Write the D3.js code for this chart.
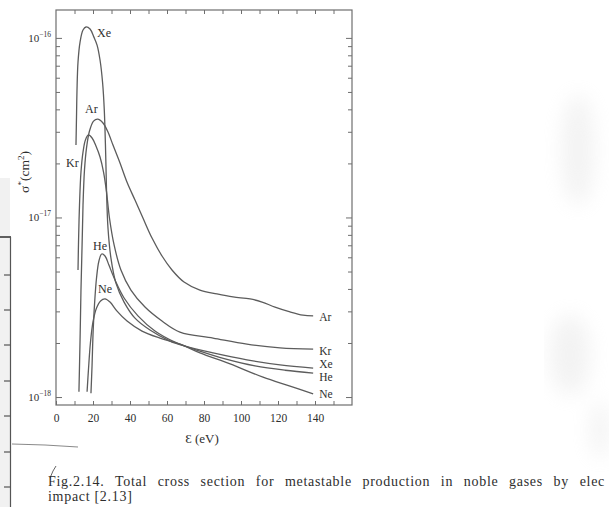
<!DOCTYPE html>
<html><head><meta charset="utf-8">
<script src="https://cdn.jsdelivr.net/npm/d3@7"></script>
<style>
html,body{margin:0;padding:0;background:#fff;}
svg{display:block;}
text{font-family:"Liberation Serif","Times New Roman",serif;fill:#2e2e2e;}
</style>
</head><body>
<svg id="chart" width="609" height="507"></svg>
<script>
// ---------- data ----------
const gases = ["Xe", "Kr", "Ar", "He", "Ne"];

const xeEnergy = [10.8, 11.1, 11.35, 11.9, 13.0, 14.6, 16.2, 18.4, 20.5, 22.2, 23.8, 25.2, 26.1, 26.8, 27.3, 28.1, 29.7, 32.4, 36.8, 42.7, 50.8, 61.6, 69.7, 84.9, 103.2, 121.1, 139];
const xeSigma  = [2.53e-17, 3.72e-17, 5.12e-17, 7.34e-17, 9.48e-17, 1.106e-16, 1.15e-16, 1.12e-16, 1.01e-16, 9.12e-17, 7.53e-17, 5.61e-17, 3.97e-17, 2.37e-17, 1.42e-17, 8.73e-18, 5.94e-18, 4.31e-18, 3.38e-18, 2.75e-18, 2.36e-18, 2.05e-18, 1.92e-18, 1.76e-18, 1.61e-18, 1.51e-18, 1.45e-18];

const krEnergy = [11.9, 12.2, 12.7, 13.5, 14.6, 15.9, 17.5, 19.5, 21.6, 23.8, 25.7, 27.3, 28.9, 31.4, 35.1, 40.5, 48.1, 57.3, 67.0, 84.9, 103.2, 121.1, 139];
const krSigma  = [5.10e-18, 7.49e-18, 1.17e-17, 1.79e-17, 2.31e-17, 2.70e-17, 2.88e-17, 2.77e-17, 2.50e-17, 2.17e-17, 1.79e-17, 1.39e-17, 9.93e-18, 7.03e-18, 5.10e-18, 3.94e-18, 3.17e-18, 2.65e-18, 2.30e-18, 2.13e-18, 1.97e-18, 1.88e-18, 1.85e-18];

const arEnergy = [12.4, 13.0, 13.5, 14.1, 14.6, 15.4, 16.5, 18.1, 20.3, 22.5, 25.4, 28.1, 30.8, 34.6, 38.4, 42.7, 47.0, 51.9, 57.3, 62.7, 69.2, 77.8, 87.0, 95.7, 104.9, 111.4, 118.4, 126.5, 133.5, 139];
const arSigma  = [1.07e-18, 2.08e-18, 3.94e-18, 7.03e-18, 1.17e-17, 1.84e-17, 2.44e-17, 3.03e-17, 3.44e-17, 3.53e-17, 3.36e-17, 2.99e-17, 2.53e-17, 2.01e-17, 1.57e-17, 1.25e-17, 9.93e-18, 7.68e-18, 6.10e-18, 5.10e-18, 4.37e-18, 3.94e-18, 3.75e-18, 3.61e-18, 3.52e-18, 3.38e-18, 3.17e-18, 2.98e-18, 2.86e-18, 2.83e-18];

const heEnergy = [18.9, 19.5, 20.0, 20.8, 21.9, 23.2, 24.7, 26.5, 28.6, 31.9, 36.8, 44.3, 53.5, 64.3, 77.8, 91.4, 107.6, 123.8, 139];
const heSigma  = [1.05e-18, 1.51e-18, 2.22e-18, 3.25e-18, 4.60e-18, 5.72e-18, 6.26e-18, 6.10e-18, 5.43e-18, 4.48e-18, 3.56e-18, 2.83e-18, 2.33e-18, 2.02e-18, 1.80e-18, 1.63e-18, 1.49e-18, 1.41e-18, 1.36e-18];

const neEnergy = [16.8, 17.6, 18.6, 20.0, 21.9, 24.1, 26.5, 29.2, 33.0, 38.4, 46.5, 56.2, 67.0, 77.8, 94.1, 111.9, 126.5, 139];
const neSigma  = [1.07e-18, 1.45e-18, 2.00e-18, 2.62e-18, 3.13e-18, 3.43e-18, 3.52e-18, 3.38e-18, 3.01e-18, 2.65e-18, 2.33e-18, 2.13e-18, 1.97e-18, 1.76e-18, 1.53e-18, 1.29e-18, 1.15e-18, 1.04e-18];

// peak label anchors (data units)
const peakLabelEnergy = [22.2, 5.4, 15.7, 20.0, 22.7];
const peakLabelSigma  = [1.01e-16, 1.91e-17, 3.82e-17, 6.59e-18, 3.79e-18];

const xTickValues = [0,10,20,30,40,50,60,70,80,90,100,110,120,130,140,150];
const xTickLabels = [0,20,40,60,80,100,120,140];
const yMinorMantissa = [2,3,4,5,6,7,8,9];
const yDecades = [-18,-17,-16];
const yTickExponents = ["−18","−17","−16"];
const xTitle = "Ɛ (eV)";
const captionLine1 = "Fig.2.14. Total cross section for metastable production in noble gases by elec";
const captionLine2 = "impact [2.13]";

// ---------- layout ----------
const L = 56, R = 352, T = 10, B = 405;
const FONT = '"Liberation Serif", "Times New Roman", serif';
const svg = d3.select("#chart");
const x = d3.scaleLinear().domain([0,160]).range([L,R]);
const y = d3.scaleLog().domain([9.03e-19, 1.43e-16]).range([B,T]);
const ink = "#5c5c5c";

// scan artefacts (left page edge, smudges)
const defs = svg.append("defs");
defs.append("filter").attr("id","blur").append("feGaussianBlur").attr("stdDeviation",10);
const smudge = svg.append("g").attr("filter","url(#blur)").attr("fill","#dcdcdc").attr("opacity",0.35);
smudge.append("ellipse").attr("cx",578).attr("cy",150).attr("rx",16).attr("ry",55);
smudge.append("ellipse").attr("cx",570).attr("cy",355).attr("rx",20).attr("ry",40);
smudge.append("ellipse").attr("cx",600).attr("cy",430).attr("rx",9).attr("ry",28);
svg.append("rect").attr("x",0).attr("y",178).attr("width",10).attr("height",329).attr("fill","#f1f1f1");
svg.append("line").attr("x1",0).attr("x2",11).attr("y1",237).attr("y2",237).attr("stroke","#3a3a3a").attr("stroke-width",1.6);
svg.append("line").attr("x1",10.5).attr("x2",10.5).attr("y1",237).attr("y2",507).attr("stroke","#555").attr("stroke-width",1.2);
[275,310,345,381,416,452,487].forEach(v=>{
  svg.append("line").attr("x1",4).attr("x2",10.5).attr("y1",v).attr("y2",v).attr("stroke","#555").attr("stroke-width",1.2);
});
svg.append("path").attr("d","M12,444 L45,445 L78,447").attr("fill","none").attr("stroke","#8a8a8a").attr("stroke-width",1.2);
svg.append("path").attr("d","M50,478 L53,471 L56,466").attr("fill","none").attr("stroke","#666").attr("stroke-width",1);

// frame
svg.append("rect").attr("x",L).attr("y",T).attr("width",R-L).attr("height",B-T)
  .attr("fill","none").attr("stroke","#6e6e6e").attr("stroke-width",1.2);

// x axes
const gxB = svg.append("g").attr("transform",`translate(0,${B})`)
  .call(d3.axisBottom(x).tickValues(xTickValues).tickSize(-4).tickPadding(9)
    .tickFormat(d => xTickLabels.includes(d) ? d : ""));
const gxT = svg.append("g").attr("transform",`translate(0,${T})`)
  .call(d3.axisTop(x).tickValues(xTickValues.slice(1)).tickSize(-4).tickFormat(""));
[gxB,gxT].forEach(g=>{
  g.attr("font-family", FONT).attr("font-size", 11.5);
  g.select(".domain").remove();
  g.selectAll(".tick line").attr("stroke","#6e6e6e");
  g.selectAll("text").attr("fill","#333").style("font-family", FONT).style("font-size","11.5px");
});

// y axes (log ticks)
const yMinor = [], yMajor = [];
yDecades.forEach(e=>{
  yMajor.push(Math.pow(10,e));
  yMinorMantissa.forEach(m=>{ const v = m*Math.pow(10,e); if (v < 1.43e-16) yMinor.push(v); });
});
function yAxes(vals, len){
  const gl = svg.append("g").attr("transform",`translate(${L},0)`).call(d3.axisLeft(y).tickValues(vals).tickSize(-len).tickFormat(""));
  const gr = svg.append("g").attr("transform",`translate(${R},0)`).call(d3.axisRight(y).tickValues(vals).tickSize(-len).tickFormat(""));
  [gl,gr].forEach(g=>{ g.select(".domain").remove(); g.selectAll(".tick line").attr("stroke","#6e6e6e"); });
}
yAxes(yMinor, 4);
yAxes(yMajor, 6);

// y tick labels 10^n
yMajor.forEach((v,i)=>{
  const t = svg.append("text").attr("x",51).attr("y",y(v)+4).attr("text-anchor","end").style("font-size","11px");
  t.append("tspan").text("10");
  t.append("tspan").attr("dy",-5).style("font-size","7.5px").text(yTickExponents[i]);
});

// axis titles
svg.append("text").attr("x",202).attr("y",443).attr("text-anchor","middle").style("font-size","13px").text(xTitle);
const yt = svg.append("text").attr("transform","translate(29,172) rotate(-90)").attr("text-anchor","middle").style("font-size","13.5px");
yt.append("tspan").text("σ");
yt.append("tspan").attr("dy",-5).style("font-size","9px").text("*");
yt.append("tspan").attr("dy",5).text("(cm");
yt.append("tspan").attr("dy",-5).style("font-size","9px").text("2");
yt.append("tspan").attr("dy",5).text(")");

// curves
const seriesE = {Xe: xeEnergy, Kr: krEnergy, Ar: arEnergy, He: heEnergy, Ne: neEnergy};
const seriesS = {Xe: xeSigma, Kr: krSigma, Ar: arSigma, He: heSigma, Ne: neSigma};
const line = d3.line().x(d=>x(d[0])).y(d=>y(d[1])).curve(d3.curveCatmullRom.alpha(0.5));
gases.forEach(g=>{
  const pts = seriesE[g].map((e,i)=>[e, seriesS[g][i]]);
  svg.append("path").attr("d", line(pts)).attr("fill","none").attr("stroke",ink).attr("stroke-width",1.3);
});

// peak labels
gases.forEach((g,i)=>{
  svg.append("text").attr("x",x(peakLabelEnergy[i])).attr("y",y(peakLabelSigma[i]))
    .style("font-size","12px").text(g);
});

// end labels
const endDy = {Ar:5, Kr:6, Xe:0, He:8, Ne:4};
["Ar","Kr","Xe","He","Ne"].forEach(g=>{
  const E = seriesE[g], S = seriesS[g];
  svg.append("text").attr("x",x(E[E.length-1])+6).attr("y",y(S[S.length-1])+endDy[g])
    .style("font-size","11.5px").text(g);
});

// caption (widened like the justified original)
const cap = svg.append("text").attr("x",48).attr("y",486)
  .style("font-size","14px").style("letter-spacing","0.7px").text(captionLine1);
const natural = cap.node().getComputedTextLength();
const spaces = (captionLine1.match(/ /g) || []).length;
cap.style("word-spacing", Math.max(0, (557 - natural) / spaces) + "px");
svg.append("text").attr("x",48).attr("y",501).style("font-size","14px").style("letter-spacing","0.7px").text(captionLine2);
</script>
</body></html>
